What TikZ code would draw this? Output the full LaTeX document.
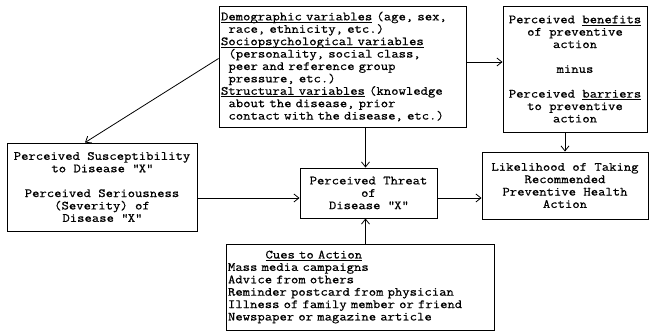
\documentclass[tikz,border=0pt]{standalone}
\usepackage{fontspec}
\setmainfont{Latin Modern Mono}[FakeStretch=1.143,FakeBold=0.6]
\usetikzlibrary{arrows.meta}
\newcommand{\undl}[1]{\leavevmode\setbox0\hbox{#1}\rlap{\rule[-2.2pt]{\wd0}{0.6pt}}\box0{}}
\newcommand{\ind}{\hspace*{0.6em}}
\newcommand{\dq}{\textquotedbl}

\begin{document}
\begin{tikzpicture}[x=1pt,y=-1pt,>={Straight Barb[length=5pt,width=8pt]},
        box/.style={draw,line width=0.9pt,inner sep=2pt,
            font=\fontsize{12.5}{12.4}\selectfont},
        flow/.style={->,line width=0.8pt}]
        \useasboundingbox (0,0) rectangle (654,332);

        % Modifying factors and cues.
        \node[box,text width=243pt,minimum height=121pt,align=left]
            (demo) at (342.5,66.5)
            {\undl{Demographic variables} (age, sex,\\
            \ind race, ethnicity, etc.)\\
            \undl{Sociopsychological variables}\\
            \ind(personality, social class,\\
            \ind peer and reference group\\
            \ind pressure, etc.)\\
            \undl{Structural variables} (knowledge\\
            \ind about the disease, prior\\
            \ind contact with the disease, etc.)};
        \node[box,text width=264pt,minimum height=86pt,align=left]
            (cues) at (360,287)
            {\hspace*{3em}\undl{Cues to Action}\\
            Mass media campaigns\\
            Advice from others\\
            Reminder postcard from physician\\
            Illness of family member or friend\\
            Newspaper or magazine article};

        % Perceptions and likelihood of action.
        \node[box,minimum width=190pt,minimum height=88pt,align=center]
            (suscept) at (102,187)
            {Perceived Susceptibility\\to Disease \dq X\dq\\[12.4pt]
            Perceived Seriousness\\(Severity) of\\Disease \dq X\dq};
        \node[box,minimum width=137pt,minimum height=50pt,align=center]
            (threat) at (368.5,193)
            {Perceived Threat\\of\\Disease \dq X\dq};
        \node[box,minimum width=144pt,minimum height=126pt,align=center]
            (bene) at (575,69)
            {Perceived \undl{benefits}\\of preventive\\action\\[12.4pt]
            minus\\[12.4pt]
            Perceived \undl{barriers}\\to preventive\\action};
        \node[box,minimum width=166pt,minimum height=67pt,align=center]
            (like) at (565,185.5)
            {Likelihood of Taking\\Recommended\\Preventive Health\\Action};

        % Connectors.
        \coordinate (threatin) at ([yshift=-5pt]threat.west);
        \coordinate (threatout) at ([yshift=-5pt]threat.east);
        \draw[flow] ([yshift=8pt]demo.west) -- ([xshift=-17pt]suscept.north);
        \draw[flow] ([yshift=4.5pt]demo.east) -- ([yshift=4.5pt]demo.east -| bene.west);
        \draw[flow] ([xshift=-3pt]threat.north |- demo.south) -- ([xshift=-3pt]threat.north);
        \draw[flow] ([xshift=-3pt]threat.south |- cues.north) -- ([xshift=-3pt]threat.south);
        \draw[flow] (suscept.east |- threatin) -- (threatin);
        \draw[flow] (threatout) -- (threatout -| like.west);
        \draw[flow] (like.north |- bene.south) -- (like.north);
    \end{tikzpicture}
\end{document}
